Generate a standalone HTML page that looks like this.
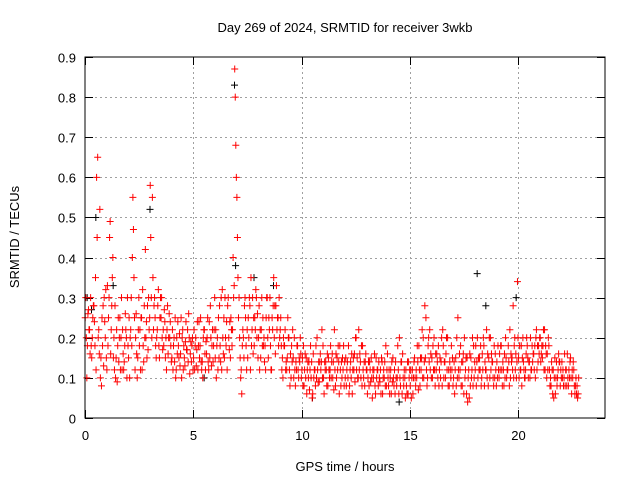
<!DOCTYPE html>
<html><head><meta charset="utf-8"><style>
body{margin:0;background:#fff}
svg text{font-family:"Liberation Sans",sans-serif;font-size:13px;fill:#000}
</style></head><body>
<svg id="chart" width="640" height="480" viewBox="0 0 640 480" xmlns="http://www.w3.org/2000/svg">
<rect width="640" height="480" fill="#fff"/>
<text x="345" y="32" text-anchor="middle">Day 269 of 2024, SRMTID for receiver 3wkb</text>
<text transform="translate(19,237) rotate(-90)" text-anchor="middle">SRMTID / TECUs</text>
<text x="345" y="471" text-anchor="middle">GPS time / hours</text>
<g id="grid"></g>
<g id="ticks"></g>
<g id="marks"></g>
<rect x="85" y="57" width="520" height="361" fill="none" stroke="#000" stroke-width="1"/>
</svg>
<script>
const xTicks=[0,5,10,15,20];
const yTicks=[0,0.1,0.2,0.3,0.4,0.5,0.6,0.7,0.8,0.9];
const yTickLabels=["0","0.1","0.2","0.3","0.4","0.5","0.6","0.7","0.8","0.9"];
const hourStarts=[0,1,2,3,4,5,6,7,8,9,10,11,12,13,14,15,16,17,18,19,20,21,22];
const seriesA=[
[.25,.18,.22,.15,.28,.12,.20,.10,.18,.24],[.12,.30,.22,.15,.10,.18,.25,.12,.14,.20],[.15,.22,.55,.12,.10,.18,.25,.14,.20,.17],[.58,.55,.30,.20,.18,.25,.22,.15,.28,.20],[.15,.20,.12,.18,.16,.22,.13,.17,.20,.14],[.15,.20,.12,.18,.14,.22,.16,.12,.20,.14],[.15,.20,.28,.12,.25,.18,.30,.15,.22,.87],[.55,.30,.12,.20,.25,.15,.28,.22,.18,.30],[.20,.15,.25,.18,.30,.22,.12,.35,.28,.25],[.22,.15,.18,.12,.20,.10,.15,.08,.18,.14],[.12,.08,.15,.10,.18,.06,.12,.20,.09,.14],[.10,.14,.08,.12,.16,.22,.10,.14,.08,.12],[.10,.14,.08,.16,.12,.20,.10,.14,.18,.08],[.12,.08,.15,.10,.06,.12,.09,.14,.10,.08],[.08,.12,.15,.06,.10,.20,.14,.08,.12,.06],[.08,.12,.15,.10,.18,.12,.20,.15,.10,.22],[.15,.20,.12,.18,.10,.22,.14,.12,.08,.18],[.10,.15,.25,.12,.08,.20,.06,.12,.15,.08],[.12,.20,.15,.10,.18,.12,.08,.20,.14,.10],[.14,.10,.18,.12,.20,.12,.22,.15,.18,.10],[.15,.12,.20,.10,.18,.14,.12,.16,.20,.14],[.20,.15,.22,.10,.18,.08,.12,.06,.10,.14],[.14,.10,.12,.08,.15,.10,.06,.08]];
const seriesB=[
[.30,.26,.16,.20,.24,.60,.22,.15,.28,.20],[.33,.45,.28,.20,.15,.25,.12,.22,.18,.10],[.25,.30,.47,.20,.15,.22,.12,.28,.24,.30],[.45,.35,.25,.22,.15,.30,.18,.20,.16,.24],[.22,.14,.20,.15,.25,.12,.19,.22,.11,.18],[.22,.13,.18,.25,.10,.16,.20,.24,.13,.18],[.22,.12,.18,.32,.15,.24,.20,.25,.40,.80],[.45,.20,.06,.15,.18,.25,.12,.30,.25,.20],[.28,.22,.18,.12,.20,.30,.25,.20,.33,.18],[.25,.10,.22,.15,.12,.18,.10,.14,.12,.20],[.15,.12,.06,.14,.10,.16,.08,.12,.14,.22],[.06,.12,.15,.18,.10,.12,.15,.06,.14,.18],[.15,.10,.12,.06,.16,.12,.22,.10,.12,.14],[.06,.14,.10,.12,.15,.08,.12,.06,.14,.12],[.12,.06,.10,.14,.18,.10,.06,.12,.08,.14],[.12,.06,.10,.18,.12,.15,.10,.25,.18,.12],[.10,.12,.16,.08,.14,.18,.10,.20,.14,.12],[.14,.08,.12,.18,.14,.10,.15,.05,.10,.18],[.18,.10,.12,.16,.08,.22,.15,.12,.10,.16],[.10,.16,.12,.08,.15,.18,.10,.12,.20,.14],[.10,.18,.14,.12,.15,.10,.18,.12,.22,.18],[.14,.18,.12,.16,.12,.14,.05,.10,.12,.08],[.10,.16,.08,.12,.10,.14,.08,.05]];
const seriesC=[
[.20,.27,.30,.25,.18,.45,.16,.08,.13,.32],[.18,.49,.35,.12,.22,.14,.20,.16,.26,.30],[.10,.18,.35,.26,.22,.12,.32,.20,.15,.22],[.30,.22,.18,.28,.25,.20,.27,.12,.20,.18],[.12,.25,.16,.21,.10,.18,.24,.14,.16,.20],[.12,.17,.24,.14,.20,.12,.25,.15,.18,.22],[.10,.25,.14,.20,.30,.12,.17,.22,.30,.68],[.35,.15,.18,.28,.12,.20,.35,.16,.22,.26],[.12,.30,.20,.25,.15,.18,.22,.28,.22,.30],[.18,.20,.12,.25,.08,.14,.20,.12,.10,.16],[.08,.16,.12,.07,.14,.10,.18,.09,.16,.10],[.14,.08,.12,.10,.14,.08,.12,.18,.10,.08],[.08,.18,.14,.12,.09,.15,.12,.18,.10,.16],[.10,.12,.05,.16,.10,.14,.06,.10,.08,.16],[.06,.14,.08,.10,.12,.08,.16,.10,.06,.10],[.05,.10,.08,.14,.08,.22,.14,.12,.20,.16],[.18,.08,.14,.12,.20,.10,.16,.08,.12,.15],[.06,.20,.10,.08,.16,.12,.04,.16,.12,.10],[.08,.15,.18,.12,.14,.10,.20,.16,.08,.12],[.18,.12,.08,.16,.10,.14,.16,.28,.12,.34],[.18,.08,.12,.16,.10,.20,.14,.18,.12,.16],[.16,.22,.18,.12,.08,.12,.10,.14,.16,.12],[.12,.08,.16,.10,.06,.12,.10,.06]];
const seriesD=[
[.10,.22,.18,.28,.35,.65,.52,.25,.30,.15],[.25,.16,.40,.28,.09,.20,.30,.12,.22,.18],[.20,.40,.25,.16,.30,.25,.18,.42,.28,.25],[.20,.28,.15,.32,.30,.17,.24,.22,.26,.14],[.18,.10,.24,.13,.20,.15,.17,.26,.19,.12],[.18,.24,.15,.12,.22,.19,.14,.28,.22,.30],[.18,.15,.30,.16,.20,.28,.24,.18,.33,.60],[.25,.10,.22,.30,.22,.30,.18,.25,.32,.15],[.22,.18,.14,.30,.25,.12,.28,.16,.25,.20],[.12,.18,.14,.20,.16,.22,.12,.18,.15,.10],[.18,.10,.14,.12,.05,.12,.10,.14,.12,.18],[.12,.16,.10,.14,.07,.16,.18,.12,.15,.14],[.12,.06,.10,.15,.20,.10,.16,.08,.14,.12],[.14,.09,.12,.08,.12,.10,.15,.12,.18,.10],[.10,.09,.12,.08,.06,.14,.10,.05,.14,.12],[.10,.14,.12,.07,.15,.10,.28,.08,.14,.10],[.12,.16,.10,.15,.08,.14,.20,.12,.10,.08],[.12,.10,.16,.14,.06,.15,.10,.08,.20,.14],[.14,.12,.08,.20,.12,.16,.10,.14,.18,.08],[.12,.18,.14,.10,.12,.08,.14,.10,.16,.20],[.12,.15,.10,.20,.14,.12,.16,.10,.18,.20],[.18,.12,.16,.20,.10,.06,.15,.08,.14,.10],[.08,.12,.10,.14,.12,.08,.06,.10]];
const blackTimes=[0.1,0.5,1.3,3.0,6.9,6.95,7.8,18.1,18.5,19.9,5.5,10.5,14.5,0.3,8.7];
const blackValues=[0.30,0.50,0.33,0.52,0.83,0.38,0.35,0.36,0.28,0.30,0.10,0.05,0.04,0.27,0.33];

const NS="http://www.w3.org/2000/svg";
const X0=85,X1=605,Y0=418,Y1=57;
function xs(h){return X0+(h/24)*(X1-X0);}
function ys(v){return Y0-(v/0.9)*(Y0-Y1);}
const grid=document.getElementById('grid'),ticks=document.getElementById('ticks'),marks=document.getElementById('marks');
function line(p,x1,y1,x2,y2,st,dash){const l=document.createElementNS(NS,'line');l.setAttribute('x1',x1);l.setAttribute('y1',y1);l.setAttribute('x2',x2);l.setAttribute('y2',y2);l.setAttribute('stroke',st);l.setAttribute('stroke-width',1);if(dash)l.setAttribute('stroke-dasharray',dash);p.appendChild(l);return l;}
yTicks.forEach((v,i)=>{const y=Math.round(ys(v))+0.5;
 if(i>0&&i<yTicks.length-1){const g=line(grid,X0,y,X1,y,'#a0a0a0','2,3');}
 line(ticks,X0,y,X0+8,y,'#000');line(ticks,X1-8,y,X1,y,'#000');
 const t=document.createElementNS(NS,'text');t.setAttribute('x',X0-9);t.setAttribute('y',y+5);t.setAttribute('text-anchor','end');t.textContent=yTickLabels[i];
 
 
 ticks.appendChild(t);});
xTicks.forEach((h,i)=>{const x=Math.round(xs(h))+0.5;
 if(i>0){const g=line(grid,x,Y1,x,Y0,'#a0a0a0','2,3');}
 line(ticks,x,Y0,x,Y0-8,'#000');line(ticks,x,Y1,x,Y1+8,'#000');
 const t=document.createElementNS(NS,'text');t.setAttribute('x',x);t.setAttribute('y',Y0+22);t.setAttribute('text-anchor','middle');t.textContent=String(h);
 
 
 ticks.appendChild(t);});
function plus(h,v,col,name){const x=xs(h),y=ys(v);const p=document.createElementNS(NS,'path');
 p.setAttribute('d',`M${x-3.5},${y}H${x+3.5}M${x},${y-3.5}V${y+3.5}`);p.setAttribute('stroke',col);p.setAttribute('stroke-width',1);
 
 
 marks.appendChild(p);}
blackTimes.forEach((h,i)=>plus(h,blackValues[i],'#000','black-point'));
const seriesOffsets=[0.01,0.035,0.06,0.085];
[seriesA,seriesB,seriesC,seriesD].forEach((s,si)=>{s.forEach((hr,hi)=>{hr.forEach((v,k)=>{plus(hourStarts[hi]+k*0.1+seriesOffsets[si],v,'#ff0000','red-point');});});});
</script>
</body></html>
